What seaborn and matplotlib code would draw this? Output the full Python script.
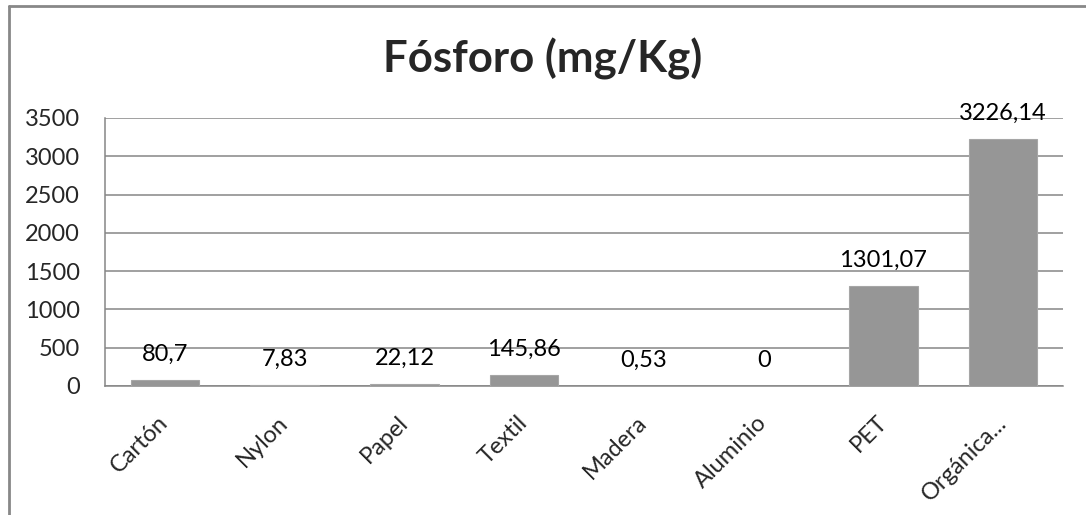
import matplotlib
matplotlib.use("Agg")
import matplotlib.pyplot as plt
import seaborn as sns
from matplotlib.lines import Line2D

# Data
categorias = ["Cartón", "Nylon", "Papel", "Textil", "Madera", "Aluminio", "PET", "Orgánica..."]
valores = [80.7, 7.83, 22.12, 145.86, 0.53, 0, 1301.07, 3226.14]
etiquetas = ["80,7", "7,83", "22,12", "145,86", "0,53", "0", "1301,07", "3226,14"]
y_ticks = [0, 500, 1000, 1500, 2000, 2500, 3000, 3500]

sns.set_style("white")
plt.rcParams["font.family"] = ["Lato", "DejaVu Sans"]

fig = plt.figure(figsize=(10.86, 5.15), dpi=100)
ax = fig.add_axes([105 / 1086, 1 - 386 / 515, 958 / 1086, 268 / 515])

sns.barplot(x=categorias, y=valores, color="#969696", width=0.57,
            saturation=1, edgecolor="#a6a6a6", linewidth=0.8, ax=ax, zorder=3)

ax.bar_label(ax.containers[0], labels=etiquetas, padding=11, fontsize=17, color="black")

ax.set_ylim(0, 3500)
ax.set_xlim(-0.5, len(categorias) - 0.5)
ax.set_yticks(y_ticks)
ax.set_yticklabels([str(t) for t in y_ticks], fontsize=17)
ax.yaxis.grid(True, color="#868686", linewidth=1.1, zorder=0)
ax.set_axisbelow(True)
ax.tick_params(axis="both", length=0)
ax.tick_params(axis="y", pad=18)

for lbl in ax.get_xticklabels():
    lbl.set_rotation(45)
    lbl.set_ha("right")
    lbl.set_va("center")
    lbl.set_rotation_mode("anchor")
    lbl.set_fontsize(17)
ax.tick_params(axis="x", pad=24)

for s in ["top", "right"]:
    ax.spines[s].set_visible(False)
for s in ["left", "bottom"]:
    ax.spines[s].set_color("#868686")
    ax.spines[s].set_linewidth(1.1)

fig.text(0.5, 1 - 72 / 515, "Fósforo (mg/Kg)", ha="center", va="baseline",
         fontsize=31.5, fontweight="bold")

# outer chart border (left and top edges only visible)
fig.add_artist(Line2D([8.5 / 1086, 8.5 / 1086], [0, 1 - 6 / 515], color="#888888", lw=2))
fig.add_artist(Line2D([8.5 / 1086, 1], [1 - 6 / 515, 1 - 6 / 515], color="#888888", lw=2))

fig.savefig("out.png", dpi=100)
